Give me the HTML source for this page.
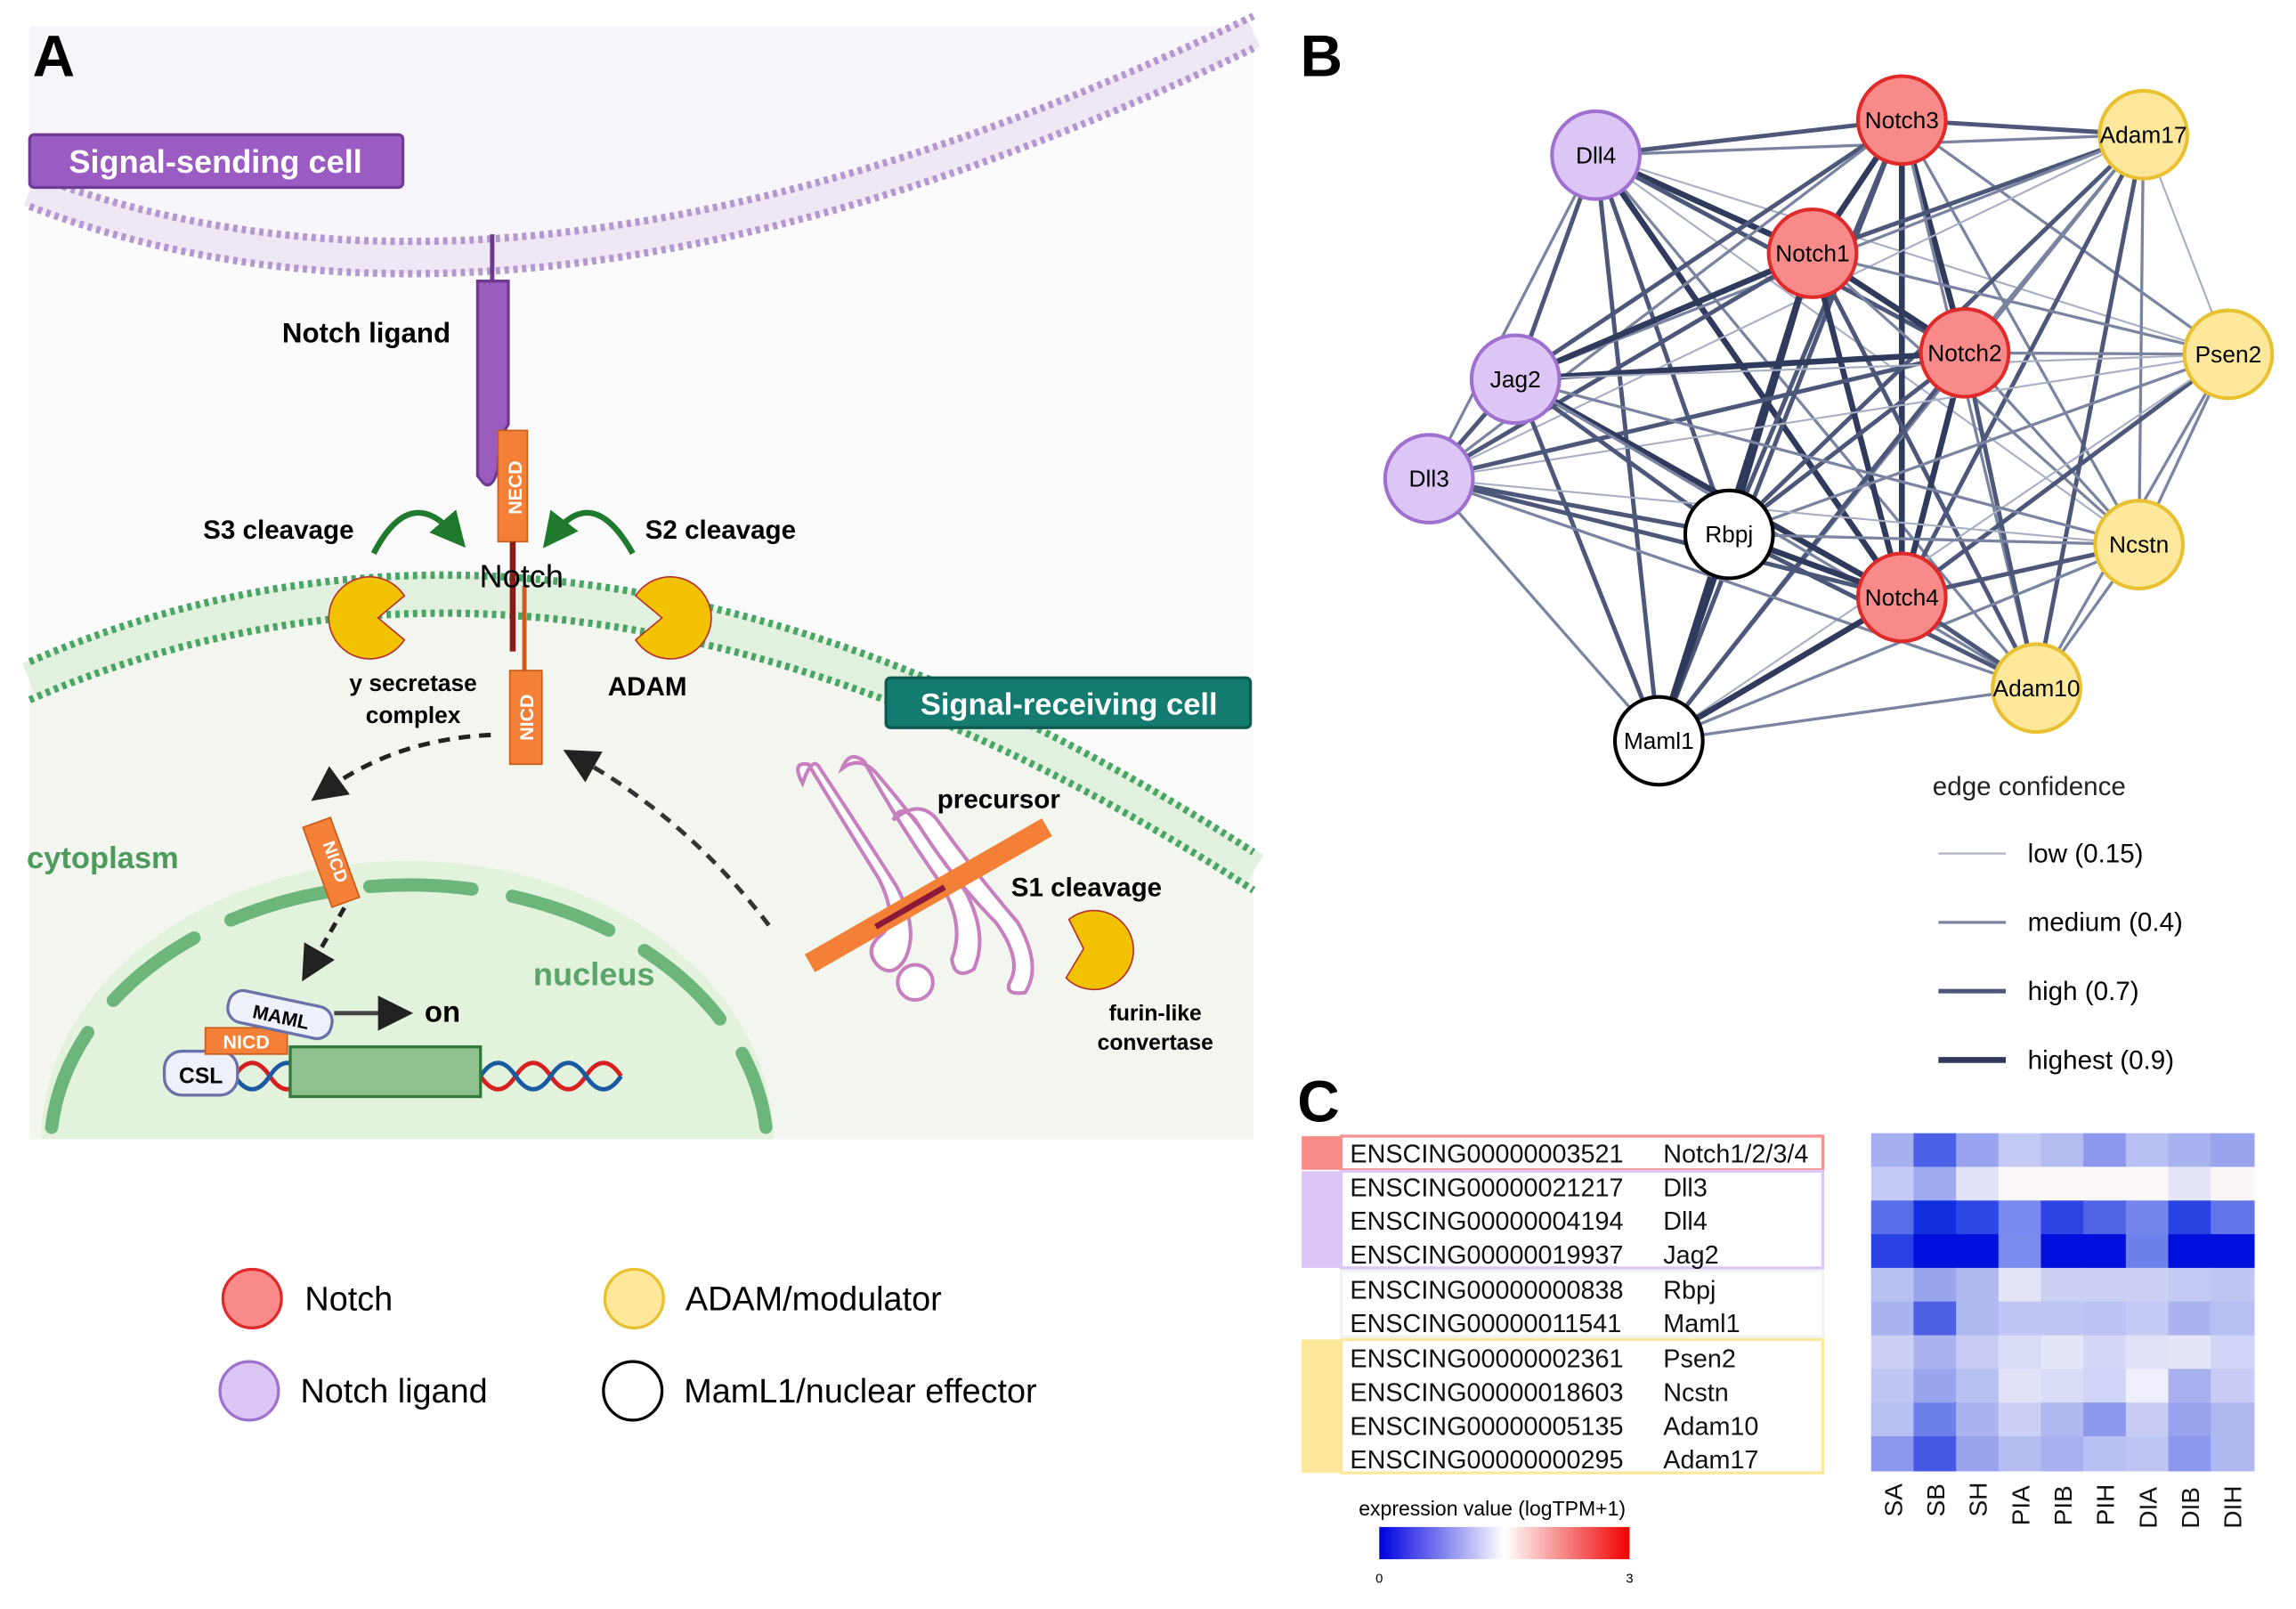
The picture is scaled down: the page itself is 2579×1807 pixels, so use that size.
<!DOCTYPE html>
<html><head><meta charset="utf-8"><style>
html,body{margin:0;padding:0;background:#fff;}
svg{display:block;font-family:"Liberation Sans",sans-serif;}
.a{stroke:#a9afc3;stroke-width:1.3}
.b{stroke:#7a84a0;stroke-width:2}
.c{stroke:#4c5779;stroke-width:3}
.d{stroke:#2f3a5c;stroke-width:4}
.n{font-size:16px;text-anchor:middle;dominant-baseline:central;fill:#000}
.g{font-size:17.5px;fill:#111}
</style></head><body>
<svg width="2579" height="1807" viewBox="0 0 1568 1099" xmlns="http://www.w3.org/2000/svg">
<defs>
<marker id="ah" markerWidth="8" markerHeight="8" refX="4" refY="4" orient="auto"><path d="M0,0 L8,4 L0,8z" fill="#222"/></marker>
<marker id="gh" markerWidth="6" markerHeight="6" refX="3" refY="3" orient="auto"><path d="M0,0 L6,3 L0,6z" fill="#1f7a2e"/></marker>
<linearGradient id="cb" x1="0" x2="1"><stop offset="0" stop-color="#0000e0"/><stop offset="0.5" stop-color="#ffffff"/><stop offset="1" stop-color="#f00000"/></linearGradient>
</defs>

<!-- PANEL A -->
<rect x="20" y="18" width="836" height="760" fill="#fbfbfb"/>
<path d="M20,18 L856,18 L856,22 Q360,260 20,130 Z" fill="#f8f5fa"/>
<path d="M20,130 Q360,260 856,22" fill="none" stroke="#efe8f4" stroke-width="22"/>
<path d="M20,119 Q360,249 856,11" fill="none" stroke="#b597cf" stroke-width="5" stroke-dasharray="3 3"/>
<path d="M20,141 Q360,271 856,33" fill="none" stroke="#b597cf" stroke-width="5" stroke-dasharray="3 3"/>
<path d="M20,465 Q400,300 856,595 L856,778 L20,778 Z" fill="#f2f6ee"/>
<path d="M20,465 Q400,300 856,595" fill="none" stroke="#e2f0e0" stroke-width="26"/>
<path d="M20,452 Q400,287 856,582" fill="none" stroke="#4aa565" stroke-width="5" stroke-dasharray="3 3"/>
<path d="M20,478 Q400,313 856,608" fill="none" stroke="#4aa565" stroke-width="5" stroke-dasharray="3 3"/>
<!-- nucleus -->
<path d="M28,778 A250,190 0 0 1 528,778 Z" fill="#e3f2dc"/>
<path d="M35,770 A245,182 0 0 1 523,770" fill="none" stroke="#6cb67c" stroke-width="9" stroke-dasharray="70 28" stroke-linecap="round"/>
<text x="18" y="593" font-size="21" font-weight="bold" fill="#4d9a5d">cytoplasm</text>
<text x="364" y="673" font-size="22" font-weight="bold" fill="#5aa56a">nucleus</text>

<rect x="20" y="92" width="255" height="36" rx="3" fill="#9a5cc2" stroke="#6e3a96" stroke-width="2"/>
<text x="147" y="118" font-size="22" font-weight="bold" fill="#fff" text-anchor="middle">Signal-sending cell</text>
<rect x="605" y="463" width="249" height="34" rx="3" fill="#137b6f" stroke="#0c5a52" stroke-width="2"/>
<text x="730" y="488" font-size="21" font-weight="bold" fill="#fff" text-anchor="middle">Signal-receiving cell</text>

<!-- ligand -->
<line x1="336" y1="160" x2="336" y2="195" stroke="#6e3a8e" stroke-width="3"/>
<path d="M326,192 L347,192 L347,290 Q340,300 340,320 Q336,335 330,330 L326,325 Z" fill="#9b5cc0" stroke="#6e3a8e" stroke-width="2"/>
<text x="250" y="234" font-size="19" font-weight="bold" text-anchor="middle">Notch ligand</text>
<rect x="340" y="294" width="20" height="76" fill="#f38036" stroke="#c85a1a"/>
<text transform="translate(356,333) rotate(-90)" font-size="13" font-weight="bold" fill="#fff" text-anchor="middle">NECD</text>
<line x1="350" y1="370" x2="350" y2="445" stroke="#8b1a1a" stroke-width="4"/>
<line x1="358" y1="400" x2="358" y2="460" stroke="#d55a1a" stroke-width="3"/>
<rect x="348" y="458" width="22" height="64" fill="#f38036" stroke="#c85a1a"/>
<text transform="translate(364,490) rotate(-90)" font-size="13" font-weight="bold" fill="#fff" text-anchor="middle">NICD</text>
<text x="356" y="401" font-size="22" text-anchor="middle">Notch</text>
<path d="M255,378 Q280,330 310,365" fill="none" stroke="#1f7a2e" stroke-width="4" marker-end="url(#gh)"/>
<path d="M432,378 Q405,330 378,365" fill="none" stroke="#1f7a2e" stroke-width="4" marker-end="url(#gh)"/>
<text x="190" y="368" font-size="18" font-weight="bold" text-anchor="middle">S3 cleavage</text>
<text x="492" y="368" font-size="18" font-weight="bold" text-anchor="middle">S2 cleavage</text>
<path d="M276,407 A28,28 0 1 0 276,437 L258,422 Z" fill="#f2c200" stroke="#b23030" stroke-width="1"/>
<path d="M434,407 A28,28 0 1 1 434,437 L452,422 Z" fill="#f2c200" stroke="#b23030" stroke-width="1"/>
<text x="282" y="472" font-size="16" font-weight="bold" text-anchor="middle">y secretase</text>
<text x="282" y="494" font-size="16" font-weight="bold" text-anchor="middle">complex</text>
<text x="442" y="475" font-size="18" font-weight="bold" text-anchor="middle">ADAM</text>
<path d="M335,502 Q270,505 222,540" fill="none" stroke="#222" stroke-width="3" stroke-dasharray="8 6" marker-end="url(#ah)"/>
<path d="M525,632 Q470,560 395,518" fill="none" stroke="#333" stroke-width="3" stroke-dasharray="8 6" marker-end="url(#ah)"/>
<path d="M235,620 L212,660" fill="none" stroke="#222" stroke-width="3" stroke-dasharray="7 5" marker-end="url(#ah)"/>
<rect x="216" y="560" width="20" height="58" fill="#f38036" stroke="#c85a1a" transform="rotate(-20 226 589)"/>
<text transform="translate(225,590) rotate(70)" font-size="12" font-weight="bold" fill="#fff" text-anchor="middle">NICD</text>
<!-- golgi -->
<g fill="#fff" stroke="#c77fbf" stroke-width="2.5">
<path d="M548,535 Q540,520 552,522 Q575,560 600,600 Q615,630 600,640 Q590,650 600,660 Q610,668 618,655 Q628,635 612,605 Q580,555 560,525 Q555,515 548,535 Z"/>
<path d="M575,525 Q580,512 590,520 Q612,560 640,600 Q660,630 650,655 Q652,670 665,662 Q675,640 660,610 Q630,565 600,530 Q588,515 575,525 Z"/>
<path d="M610,560 Q615,548 625,560 Q650,600 680,630 Q698,655 690,670 Q685,680 700,678 Q712,660 695,630 Q665,595 640,560 Q628,545 610,560 Z"/>
</g>
<circle cx="625" cy="671" r="12" fill="#fff" stroke="#c77fbf" stroke-width="2.5"/>
<path d="M553,658 L715,565" stroke="#f38036" stroke-width="14"/>
<line x1="598" y1="633" x2="645" y2="606" stroke="#8b1a3a" stroke-width="4"/>
<text x="682" y="552" font-size="18" font-weight="bold" text-anchor="middle">precursor</text>
<text x="742" y="612" font-size="18" font-weight="bold" text-anchor="middle">S1 cleavage</text>
<path d="M730,628 A27,27 0 1 1 728,668 L740,648 Z" fill="#f2c200" stroke="#b23030" stroke-width="1"/>
<text x="789" y="697" font-size="15" font-weight="bold" text-anchor="middle">furin-like</text>
<text x="789" y="717" font-size="15" font-weight="bold" text-anchor="middle">convertase</text>
<!-- DNA -->
<path d="M160,735 q12,-18 24,0 t24,0 t24,0 t24,0 t24,0 t24,0 t24,0 t24,0 t24,0 t24,0 t24,0" fill="none" stroke="#d62020" stroke-width="3"/>
<path d="M160,735 q12,18 24,0 t24,0 t24,0 t24,0 t24,0 t24,0 t24,0 t24,0 t24,0 t24,0 t24,0" fill="none" stroke="#1a5aa0" stroke-width="3"/>
<rect x="198" y="715" width="130" height="34" fill="#8fc08f" stroke="#2f7a3a" stroke-width="2"/>
<rect x="112" y="718" width="50" height="30" rx="12" fill="#eef0fa" stroke="#6a70a8" stroke-width="2"/>
<text x="137" y="740" font-size="15" font-weight="bold" text-anchor="middle">CSL</text>
<rect x="140" y="702" width="56" height="18" fill="#f38036" stroke="#c85a1a"/>
<text x="168" y="716" font-size="13" font-weight="bold" fill="#fff" text-anchor="middle">NICD</text>
<rect x="155" y="682" width="72" height="22" rx="10" fill="#eef0fa" stroke="#6a70a8" stroke-width="2" transform="rotate(12 191 693)"/>
<text x="192" y="699" font-size="13" font-weight="bold" text-anchor="middle" transform="rotate(12 191 693)">MAML</text>
<line x1="228" y1="692" x2="270" y2="692" stroke="#444" stroke-width="3" marker-end="url(#ah)"/>
<text x="302" y="698" font-size="20" font-weight="bold" text-anchor="middle">on</text>

<text x="22" y="52" font-size="40" font-weight="bold">A</text>
<text x="888" y="52" font-size="40" font-weight="bold">B</text>
<text x="886" y="766" font-size="40" font-weight="bold">C</text>

<circle cx="172" cy="887" r="20" fill="#f98a8a" stroke="#e02a2a" stroke-width="2"/>
<text x="208" y="895" font-size="23">Notch</text>
<circle cx="433" cy="887" r="20" fill="#fce79a" stroke="#e8c030" stroke-width="2"/>
<text x="468" y="895" font-size="23">ADAM/modulator</text>
<circle cx="170" cy="950" r="20" fill="#dcc6f5" stroke="#a070d0" stroke-width="2"/>
<text x="205" y="958" font-size="23">Notch ligand</text>
<circle cx="432" cy="950" r="20" fill="#fff" stroke="#000" stroke-width="2"/>
<text x="467" y="958" font-size="23">MamL1/nuclear effector</text>

<!-- PANEL B edges -->
<g>
<line x1="1090" y1="106" x2="1299" y2="82" class="c"/><line x1="1090" y1="106" x2="1464" y2="92" class="b"/><line x1="1090" y1="106" x2="1238" y2="173" class="d"/><line x1="1090" y1="106" x2="1342" y2="241" class="c"/><line x1="1090" y1="106" x2="1522" y2="242" class="a"/><line x1="1090" y1="106" x2="1035" y2="259" class="c"/><line x1="1090" y1="106" x2="976" y2="327" class="b"/><line x1="1090" y1="106" x2="1181" y2="365" class="c"/><line x1="1090" y1="106" x2="1461" y2="372" class="a"/><line x1="1090" y1="106" x2="1299" y2="408" class="d"/><line x1="1090" y1="106" x2="1391" y2="470" class="b"/><line x1="1090" y1="106" x2="1133" y2="506" class="c"/>
<line x1="1299" y1="82" x2="1464" y2="92" class="c"/><line x1="1299" y1="82" x2="1238" y2="173" class="d"/><line x1="1299" y1="82" x2="1342" y2="241" class="d"/><line x1="1299" y1="82" x2="1522" y2="242" class="b"/><line x1="1299" y1="82" x2="1035" y2="259" class="c"/><line x1="1299" y1="82" x2="976" y2="327" class="b"/><line x1="1299" y1="82" x2="1181" y2="365" class="c"/><line x1="1299" y1="82" x2="1461" y2="372" class="b"/><line x1="1299" y1="82" x2="1299" y2="408" class="d"/><line x1="1299" y1="82" x2="1391" y2="470" class="b"/><line x1="1299" y1="82" x2="1133" y2="506" class="c"/>
<line x1="1464" y1="92" x2="1238" y2="173" class="c"/><line x1="1464" y1="92" x2="1342" y2="241" class="b"/><line x1="1464" y1="92" x2="1522" y2="242" class="a"/><line x1="1464" y1="92" x2="1035" y2="259" class="b"/><line x1="1464" y1="92" x2="976" y2="327" class="a"/><line x1="1464" y1="92" x2="1181" y2="365" class="c"/><line x1="1464" y1="92" x2="1461" y2="372" class="b"/><line x1="1464" y1="92" x2="1299" y2="408" class="c"/><line x1="1464" y1="92" x2="1391" y2="470" class="c"/><line x1="1464" y1="92" x2="1133" y2="506" class="b"/>
<line x1="1238" y1="173" x2="1342" y2="241" class="d"/><line x1="1238" y1="173" x2="1522" y2="242" class="b"/><line x1="1238" y1="173" x2="1035" y2="259" class="d"/><line x1="1238" y1="173" x2="976" y2="327" class="c"/><line x1="1238" y1="173" x2="1181" y2="365" class="d"/><line x1="1238" y1="173" x2="1461" y2="372" class="b"/><line x1="1238" y1="173" x2="1299" y2="408" class="d"/><line x1="1238" y1="173" x2="1391" y2="470" class="c"/><line x1="1238" y1="173" x2="1133" y2="506" class="d"/>
<line x1="1342" y1="241" x2="1522" y2="242" class="b"/><line x1="1342" y1="241" x2="1035" y2="259" class="d"/><line x1="1342" y1="241" x2="976" y2="327" class="c"/><line x1="1342" y1="241" x2="1181" y2="365" class="c"/><line x1="1342" y1="241" x2="1461" y2="372" class="b"/><line x1="1342" y1="241" x2="1299" y2="408" class="d"/><line x1="1342" y1="241" x2="1391" y2="470" class="c"/><line x1="1342" y1="241" x2="1133" y2="506" class="c"/>
<line x1="1522" y1="242" x2="1035" y2="259" class="a"/><line x1="1522" y1="242" x2="976" y2="327" class="a"/><line x1="1522" y1="242" x2="1181" y2="365" class="b"/><line x1="1522" y1="242" x2="1461" y2="372" class="b"/><line x1="1522" y1="242" x2="1299" y2="408" class="c"/><line x1="1522" y1="242" x2="1391" y2="470" class="b"/><line x1="1522" y1="242" x2="1133" y2="506" class="a"/>
<line x1="1035" y1="259" x2="976" y2="327" class="c"/><line x1="1035" y1="259" x2="1181" y2="365" class="c"/><line x1="1035" y1="259" x2="1461" y2="372" class="b"/><line x1="1035" y1="259" x2="1299" y2="408" class="d"/><line x1="1035" y1="259" x2="1391" y2="470" class="b"/><line x1="1035" y1="259" x2="1133" y2="506" class="c"/>
<line x1="976" y1="327" x2="1181" y2="365" class="c"/><line x1="976" y1="327" x2="1461" y2="372" class="a"/><line x1="976" y1="327" x2="1299" y2="408" class="c"/><line x1="976" y1="327" x2="1391" y2="470" class="b"/><line x1="976" y1="327" x2="1133" y2="506" class="b"/>
<line x1="1181" y1="365" x2="1461" y2="372" class="b"/><line x1="1181" y1="365" x2="1299" y2="408" class="d"/><line x1="1181" y1="365" x2="1391" y2="470" class="c"/><line x1="1181" y1="365" x2="1133" y2="506" class="d"/>
<line x1="1461" y1="372" x2="1299" y2="408" class="c"/><line x1="1461" y1="372" x2="1391" y2="470" class="b"/><line x1="1461" y1="372" x2="1133" y2="506" class="b"/>
<line x1="1299" y1="408" x2="1391" y2="470" class="c"/><line x1="1299" y1="408" x2="1133" y2="506" class="d"/>
<line x1="1391" y1="470" x2="1133" y2="506" class="b"/>
</g>
<g stroke-width="2.5">
<circle cx="1090" cy="106" r="30" fill="#dcc6f5" stroke="#a070d0"/>
<circle cx="1035" cy="259" r="30" fill="#dcc6f5" stroke="#a070d0"/>
<circle cx="976" cy="327" r="30" fill="#dcc6f5" stroke="#a070d0"/>
<circle cx="1299" cy="82" r="30" fill="#f98a8a" stroke="#e02a2a"/>
<circle cx="1238" cy="173" r="30" fill="#f98a8a" stroke="#e02a2a"/>
<circle cx="1342" cy="241" r="30" fill="#f98a8a" stroke="#e02a2a"/>
<circle cx="1299" cy="408" r="30" fill="#f98a8a" stroke="#e02a2a"/>
<circle cx="1464" cy="92" r="30" fill="#fce79a" stroke="#e8c030"/>
<circle cx="1522" cy="242" r="30" fill="#fce79a" stroke="#e8c030"/>
<circle cx="1461" cy="372" r="30" fill="#fce79a" stroke="#e8c030"/>
<circle cx="1391" cy="470" r="30" fill="#fce79a" stroke="#e8c030"/>
<circle cx="1181" cy="365" r="30" fill="#fff" stroke="#000"/>
<circle cx="1133" cy="506" r="30" fill="#fff" stroke="#000"/>
</g>
<text class="n" x="1090" y="106">Dll4</text><text class="n" x="1035" y="259">Jag2</text><text class="n" x="976" y="327">Dll3</text>
<text class="n" x="1299" y="82">Notch3</text><text class="n" x="1238" y="173">Notch1</text><text class="n" x="1342" y="241">Notch2</text><text class="n" x="1299" y="408">Notch4</text>
<text class="n" x="1464" y="92">Adam17</text><text class="n" x="1522" y="242">Psen2</text><text class="n" x="1461" y="372">Ncstn</text><text class="n" x="1391" y="470">Adam10</text>
<text class="n" x="1181" y="365">Rbpj</text><text class="n" x="1133" y="506">Maml1</text>
<text x="1320" y="543" font-size="18" fill="#222">edge confidence</text>
<line x1="1324" y1="583" x2="1370" y2="583" class="a"/><text x="1385" y="589" font-size="18">low (0.15)</text>
<line x1="1324" y1="630" x2="1370" y2="630" class="b"/><text x="1385" y="636" font-size="18">medium (0.4)</text>
<line x1="1324" y1="677" x2="1370" y2="677" class="c"/><text x="1385" y="683" font-size="18">high (0.7)</text>
<line x1="1324" y1="724" x2="1370" y2="724" class="d"/><text x="1385" y="730" font-size="18">highest (0.9)</text>

<!-- PANEL C table -->
<rect x="889" y="776" width="27" height="23" fill="#f98a8a"/>
<rect x="916" y="776" width="329" height="23" fill="#fff" stroke="#f59090" stroke-width="2"/>
<rect x="889" y="800" width="27" height="66" fill="#dcc6f5"/>
<rect x="916" y="800" width="329" height="66" fill="#fff" stroke="#dcc6f5" stroke-width="2"/>
<rect x="916" y="868" width="329" height="45" fill="#fff" stroke="#f2f2f2" stroke-width="2"/>
<rect x="889" y="915" width="27" height="91" fill="#fce79a"/>
<rect x="916" y="915" width="329" height="91" fill="#fff" stroke="#fce79a" stroke-width="2"/>
<g class="g">
<text x="922" y="794">ENSCING00000003521</text><text x="1136" y="794">Notch1/2/3/4</text>
<text x="922" y="817">ENSCING00000021217</text><text x="1136" y="817">Dll3</text>
<text x="922" y="840">ENSCING00000004194</text><text x="1136" y="840">Dll4</text>
<text x="922" y="863">ENSCING00000019937</text><text x="1136" y="863">Jag2</text>
<text x="922" y="887">ENSCING00000000838</text><text x="1136" y="887">Rbpj</text>
<text x="922" y="910">ENSCING00000011541</text><text x="1136" y="910">Maml1</text>
<text x="922" y="934">ENSCING00000002361</text><text x="1136" y="934">Psen2</text>
<text x="922" y="957">ENSCING00000018603</text><text x="1136" y="957">Ncstn</text>
<text x="922" y="980">ENSCING00000005135</text><text x="1136" y="980">Adam10</text>
<text x="922" y="1003">ENSCING00000000295</text><text x="1136" y="1003">Adam17</text>
</g>
<text x="928" y="1035" font-size="14">expression value (logTPM+1)</text>
<rect x="942" y="1043" width="171" height="22" fill="url(#cb)"/>
<text x="942" y="1081" font-size="9" text-anchor="middle">0</text>
<text x="1113" y="1081" font-size="9" text-anchor="middle">3</text>
<g transform="translate(1278,774)">
<rect x="0" y="0" width="30" height="24" fill="#a6b0f0"/><rect x="29" y="0" width="30" height="24" fill="#4a60e6"/><rect x="58" y="0" width="30" height="24" fill="#98a4ef"/><rect x="87" y="0" width="30" height="24" fill="#c4caf4"/><rect x="116" y="0" width="30" height="24" fill="#b4bcf2"/><rect x="145" y="0" width="30" height="24" fill="#8c98ee"/><rect x="174" y="0" width="30" height="24" fill="#b8c0f3"/><rect x="203" y="0" width="30" height="24" fill="#a8b2f1"/><rect x="232" y="0" width="30" height="24" fill="#98a4ee"/>
<rect x="0" y="23" width="30" height="24" fill="#c4caf5"/><rect x="29" y="23" width="30" height="24" fill="#a0aaf0"/><rect x="58" y="23" width="30" height="24" fill="#e0e2f8"/><rect x="87" y="23" width="30" height="24" fill="#fdf8f8"/><rect x="116" y="23" width="30" height="24" fill="#fdf8f8"/><rect x="145" y="23" width="30" height="24" fill="#fcf8f8"/><rect x="174" y="23" width="30" height="24" fill="#fcf8f8"/><rect x="203" y="23" width="30" height="24" fill="#e4e6f8"/><rect x="232" y="23" width="30" height="24" fill="#fdf6f6"/>
<rect x="0" y="46" width="30" height="24" fill="#5a6ee8"/><rect x="29" y="46" width="30" height="24" fill="#1030e0"/><rect x="58" y="46" width="30" height="24" fill="#2c48e4"/><rect x="87" y="46" width="30" height="24" fill="#7888ec"/><rect x="116" y="46" width="30" height="24" fill="#2c44e4"/><rect x="145" y="46" width="30" height="24" fill="#5064e6"/><rect x="174" y="46" width="30" height="24" fill="#7484ea"/><rect x="203" y="46" width="30" height="24" fill="#2a44e4"/><rect x="232" y="46" width="30" height="24" fill="#6274e8"/>
<rect x="0" y="69" width="30" height="24" fill="#2840e4"/><rect x="29" y="69" width="30" height="24" fill="#0010dc"/><rect x="58" y="69" width="30" height="24" fill="#0010dc"/><rect x="87" y="69" width="30" height="24" fill="#7c8cec"/><rect x="116" y="69" width="30" height="24" fill="#0010dc"/><rect x="145" y="69" width="30" height="24" fill="#0010dc"/><rect x="174" y="69" width="30" height="24" fill="#7080ea"/><rect x="203" y="69" width="30" height="24" fill="#0010dc"/><rect x="232" y="69" width="30" height="24" fill="#0010dc"/>
<rect x="0" y="92" width="30" height="24" fill="#b8c0f2"/><rect x="29" y="92" width="30" height="24" fill="#98a4ee"/><rect x="58" y="92" width="30" height="24" fill="#b0b8f2"/><rect x="87" y="92" width="30" height="24" fill="#e4e6f8"/><rect x="116" y="92" width="30" height="24" fill="#ccd0f4"/><rect x="145" y="92" width="30" height="24" fill="#ccd0f4"/><rect x="174" y="92" width="30" height="24" fill="#ccd0f4"/><rect x="203" y="92" width="30" height="24" fill="#c4caf4"/><rect x="232" y="92" width="30" height="24" fill="#c0c6f4"/>
<rect x="0" y="115" width="30" height="24" fill="#aab4f0"/><rect x="29" y="115" width="30" height="24" fill="#4c60e6"/><rect x="58" y="115" width="30" height="24" fill="#b0b8f2"/><rect x="87" y="115" width="30" height="24" fill="#c0c6f4"/><rect x="116" y="115" width="30" height="24" fill="#c0c6f4"/><rect x="145" y="115" width="30" height="24" fill="#bcc2f3"/><rect x="174" y="115" width="30" height="24" fill="#c4caf4"/><rect x="203" y="115" width="30" height="24" fill="#acb4f0"/><rect x="232" y="115" width="30" height="24" fill="#b8c0f2"/>
<rect x="0" y="138" width="30" height="24" fill="#ccd0f4"/><rect x="29" y="138" width="30" height="24" fill="#acb4f0"/><rect x="58" y="138" width="30" height="24" fill="#c8ccf4"/><rect x="87" y="138" width="30" height="24" fill="#d8dcf6"/><rect x="116" y="138" width="30" height="24" fill="#e4e6f8"/><rect x="145" y="138" width="30" height="24" fill="#d4d8f6"/><rect x="174" y="138" width="30" height="24" fill="#e0e2f8"/><rect x="203" y="138" width="30" height="24" fill="#e4e6f8"/><rect x="232" y="138" width="30" height="24" fill="#d0d4f6"/>
<rect x="0" y="161" width="30" height="24" fill="#c0c6f4"/><rect x="29" y="161" width="30" height="24" fill="#98a4ee"/><rect x="58" y="161" width="30" height="24" fill="#b8c0f2"/><rect x="87" y="161" width="30" height="24" fill="#e0e2f8"/><rect x="116" y="161" width="30" height="24" fill="#d8dcf6"/><rect x="145" y="161" width="30" height="24" fill="#d0d4f6"/><rect x="174" y="161" width="30" height="24" fill="#eeeffa"/><rect x="203" y="161" width="30" height="24" fill="#a8b0f0"/><rect x="232" y="161" width="30" height="24" fill="#c8ccf4"/>
<rect x="0" y="184" width="30" height="24" fill="#b8c0f2"/><rect x="29" y="184" width="30" height="24" fill="#7080ea"/><rect x="58" y="184" width="30" height="24" fill="#acb4f0"/><rect x="87" y="184" width="30" height="24" fill="#ccd0f4"/><rect x="116" y="184" width="30" height="24" fill="#b0b8f2"/><rect x="145" y="184" width="30" height="24" fill="#8c98ee"/><rect x="174" y="184" width="30" height="24" fill="#c8ccf4"/><rect x="203" y="184" width="30" height="24" fill="#98a4ee"/><rect x="232" y="184" width="30" height="24" fill="#b0b8f2"/>
<rect x="0" y="207" width="30" height="24" fill="#8c98ee"/><rect x="29" y="207" width="30" height="24" fill="#4858e6"/><rect x="58" y="207" width="30" height="24" fill="#98a4ee"/><rect x="87" y="207" width="30" height="24" fill="#b4bcf2"/><rect x="116" y="207" width="30" height="24" fill="#a8b0f0"/><rect x="145" y="207" width="30" height="24" fill="#b8c0f2"/><rect x="174" y="207" width="30" height="24" fill="#c0c6f4"/><rect x="203" y="207" width="30" height="24" fill="#8c98ee"/><rect x="232" y="207" width="30" height="24" fill="#b0b8f2"/>
</g>
<g font-size="17" fill="#111">
<text transform="translate(1299,1036) rotate(-90)">SA</text>
<text transform="translate(1328,1036) rotate(-90)">SB</text>
<text transform="translate(1357,1036) rotate(-90)">SH</text>
<text transform="translate(1386,1042) rotate(-90)">PIA</text>
<text transform="translate(1415,1042) rotate(-90)">PIB</text>
<text transform="translate(1444,1042) rotate(-90)">PIH</text>
<text transform="translate(1473,1044) rotate(-90)">DIA</text>
<text transform="translate(1502,1044) rotate(-90)">DIB</text>
<text transform="translate(1531,1044) rotate(-90)">DIH</text>
</g>
</svg>
</body></html>
